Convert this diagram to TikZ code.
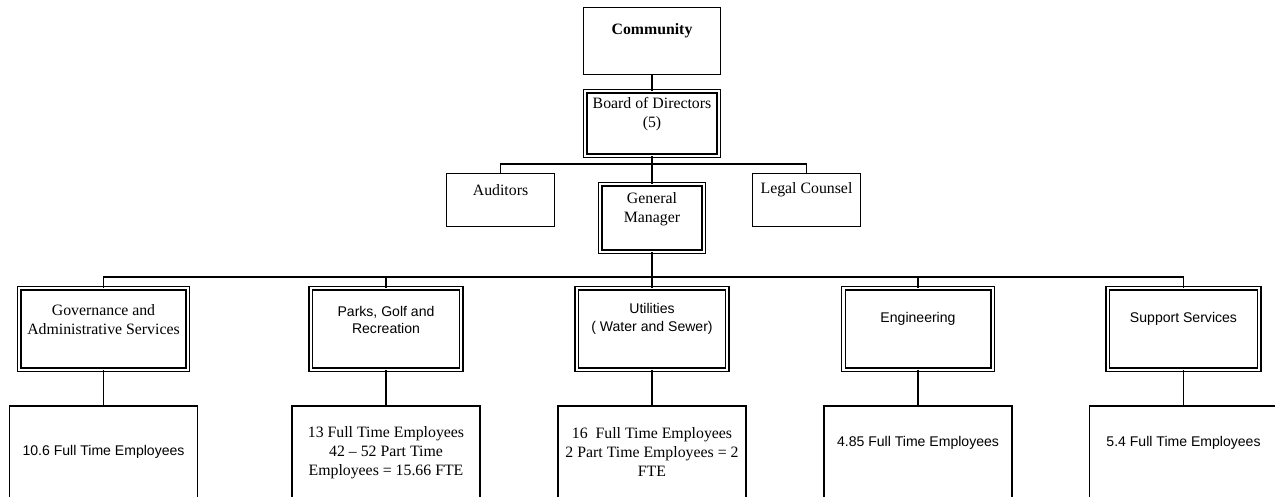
\documentclass[tikz,border=0pt]{standalone}
\usepackage{fontspec}
\setmainfont{Liberation Serif}
\newfontfamily\arialfont{Liberation Sans}
\begin{document}
\begin{tikzpicture}[x=0.02cm,y=-0.02cm,
    box/.style={draw,line width=0.7pt,inner sep=0pt},
    dbox/.style={draw,line width=0.6pt,double,double distance=1.4pt,inner sep=0pt},
    serif/.style={align=center,font=\fontsize{9}{10.8}\selectfont},
    sans/.style={align=center,font=\arialfont\fontsize{8}{10.2}\selectfont},
    link/.style={line width=0.7pt}]
  \clip (0,0) rectangle (1275,497);
  % top boxes
  \node [box,minimum width=2.74cm,minimum height=1.34cm] (community) at (652,41) {};
  \node [dbox,minimum width=2.67cm,minimum height=1.29cm] (board) at (652,123.5) {};
  \node [box,minimum width=2.16cm,minimum height=1.06cm] (auditors) at (500.5,200) {};
  \node [box,minimum width=2.16cm,minimum height=1.06cm] (legal) at (806.5,200) {};
  \node [dbox,minimum width=2.07cm,minimum height=1.35cm] (gm) at (652,218) {};
  % departments
  \node [dbox,minimum width=3.37cm,minimum height=1.63cm] (gov) at (103.5,329) {};
  \node [dbox,minimum width=3.01cm,minimum height=1.63cm] (parks) at (386,329) {};
  \node [dbox,minimum width=3.01cm,minimum height=1.63cm] (util) at (652,329) {};
  \node [dbox,minimum width=2.99cm,minimum height=1.63cm] (eng) at (918,329) {};
  \node [dbox,minimum width=3.03cm,minimum height=1.63cm] (sup) at (1183.5,329) {};
  % staff
  \node [box,minimum width=3.76cm,minimum height=2.68cm] (gov-s) at (103.5,473) {};
  \node [box,minimum width=3.76cm,minimum height=2.68cm] (parks-s) at (386,473) {};
  \node [box,minimum width=3.76cm,minimum height=2.68cm] (util-s) at (652,473) {};
  \node [box,minimum width=3.76cm,minimum height=2.68cm] (eng-s) at (918,473) {};
  \node [box,minimum width=3.76cm,minimum height=2.68cm] (sup-s) at (1183.5,473) {};
  % texts
  \node [serif] (community-t) at (652,31) {\textbf{Community}};
  \node [serif] (board-t) at (652,114.5) {Board of Directors\\(5)};
  \node [serif] (auditors-t) at (500.5,190) {Auditors};
  \node [serif] (legal-t) at (806.5,190) {Legal Counsel};
  \node [serif] (gm-t) at (652,209) {General\\Manager};
  \node [serif] (gov-t) at (103.5,320) {Governance and\\Administrative Services};
  \node [sans] (parks-t) at (386,320) {Parks, Golf and\\Recreation};
  \node [sans] (util-t) at (652,319) {Utilities\\( Water and Sewer)};
  \node [sans] (eng-t) at (918,319) {Engineering};
  \node [sans] (sup-t) at (1183.5,319) {Support Services};
  \node [sans] (gov-s-t) at (103.5,452) {10.6 Full Time Employees};
  \node [serif] (parks-s-t) at (386,453) {13 Full Time Employees\\42 -- 52 Part Time\\Employees = 15.66 FTE};
  \node [serif] (util-s-t) at (652,452) {16\ \ Full Time Employees\\2 Part Time Employees = 2\\FTE};
  \node [sans] (eng-s-t) at (918,443) {4.85 Full Time Employees};
  \node [sans] (sup-s-t) at (1183.5,443) {5.4 Full Time Employees};
  % links
  \coordinate (top-bus) at (652,164);
  \coordinate (bus) at (652,277);
  \draw [link] (community.south) -- (board.north);
  \draw [link] (board.south) -- (gm.north);
  \draw [link] (auditors.north) |- (top-bus) -| (legal.north);
  \draw [link] (gm.south) -- (util.north);
  \draw [link] (gov.north) |- (bus) -| (sup.north);
  \foreach \n in {parks,eng}
    \draw [link] (\n.north) -- (\n.north |- bus);
  \foreach \n in {gov,parks,util,eng,sup}
    \draw [link] (\n.south) -- (\n-s.north);
\end{tikzpicture}
\end{document}
